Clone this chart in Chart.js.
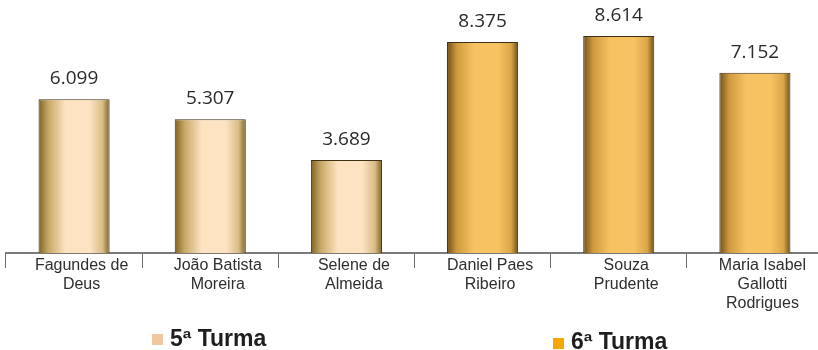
<!DOCTYPE html>
<html><head><meta charset="utf-8">
<script src="https://cdn.jsdelivr.net/npm/chart.js@4/dist/chart.umd.min.js"></script>
<style>
html,body{margin:0;padding:0;background:#fff;overflow:hidden;width:818px;height:350px}
#wrap{position:absolute;left:0;top:0;width:830px;height:350px}
.leg{position:absolute;font:bold 23px "Liberation Sans",Arial,sans-serif;color:#1e1e1e;line-height:23px;white-space:nowrap}
.sw{position:absolute;width:11px;height:11px}
</style></head><body>
<div id="wrap"><canvas id="c" width="830" height="350"></canvas></div>
<span class="sw" style="left:152px;top:334px;background:#f0c8a0"></span><div class="leg" style="left:170px;top:327px">5ª Turma</div>
<span class="sw" style="left:553px;top:338px;background:#f5a800"></span><div class="leg" style="left:571px;top:330px">6ª Turma</div>
<script>
const categories = [['Fagundes de','Deus'],['João Batista','Moreira'],['Selene de','Almeida'],['Daniel Paes','Ribeiro'],['Souza','Prudente'],['Maria Isabel','Gallotti','Rodrigues']];
const values = [6.099, 5.307, 3.689, 8.375, 8.614, 7.152];
const valueLabels = ['6.099','5.307','3.689','8.375','8.614','7.152'];
const groups = ['5ª Turma','5ª Turma','5ª Turma','6ª Turma','6ª Turma','6ª Turma'];

const stops = {
  '5ª Turma': ['#7e6224','#c9a865','#fde3c2','#fde3c2','#d9bc86','#7e6224'],
  '6ª Turma': ['#6e5016','#d09a40','#f7c262','#f7c262','#d9a64a','#6e5016']
};
const pos = [0,0.14,0.38,0.72,0.9,1];
const BAR_PCT = 0.522;

function barFill(c){
  const ch = c.chart, xs = ch.scales && ch.scales.x;
  const g = groups[c.dataIndex] || '6ª Turma';
  if(!xs || c.dataIndex === undefined) return stops[g][2];
  const cx = xs.getPixelForValue(c.dataIndex);
  const w = (xs.width / categories.length) * BAR_PCT;
  if(!isFinite(cx) || !isFinite(w) || w <= 0) return stops[g][2];
  const grad = ch.ctx.createLinearGradient(cx - w/2, 0, cx + w/2, 0);
  stops[g].forEach((col,i)=>grad.addColorStop(pos[i], col));
  return grad;
}

const valuePlugin = {
  id:'valueLabels',
  afterDatasetsDraw(chart){
    const ctx = chart.ctx;
    const meta = chart.getDatasetMeta(0);
    ctx.save();
    ctx.font = '19px "Open Sans", "Noto Sans", sans-serif';
    ctx.fillStyle = '#2a2a2a';
    ctx.textAlign = 'center';
    ctx.textBaseline = 'alphabetic';
    meta.data.forEach((el,i)=>{
      ctx.fillText(valueLabels[i], el.x, el.y - 15);
    });
    ctx.restore();
  }
};

new Chart(document.getElementById('c'), {
  type:'bar',
  data:{
    labels: categories,
    datasets:[{
      data: values,
      backgroundColor: barFill,
      borderColor:'#3e3215',
      borderWidth:1,
      borderSkipped:'bottom',
      barPercentage: BAR_PCT,
      categoryPercentage: 1
    }]
  },
  options:{
    responsive:false,
    animation:false,
    devicePixelRatio:1,
    layout:{padding:{left:6,right:7,top:1,bottom:0}},
    plugins:{legend:{display:false},tooltip:{enabled:false}},
    scales:{
      y:{display:false,min:0,max:10},
      x:{
        offset:true,
        grid:{display:true,offset:true,drawOnChartArea:false,drawTicks:true,tickLength:15,color:'#6a6a6a',lineWidth:1},
        border:{display:true,color:'#7a7a7a',width:2},
        ticks:{color:'#2e2e2e',font:{family:'"Liberation Sans", Arial, sans-serif',size:16,lineHeight:1.18},padding:-12,labelOffset:7.5,maxRotation:0,minRotation:0,autoSkip:false},
        afterFit(s){ s.height = 97; }
      }
    }
  },
  plugins:[valuePlugin]
});
</script>
</body></html>
